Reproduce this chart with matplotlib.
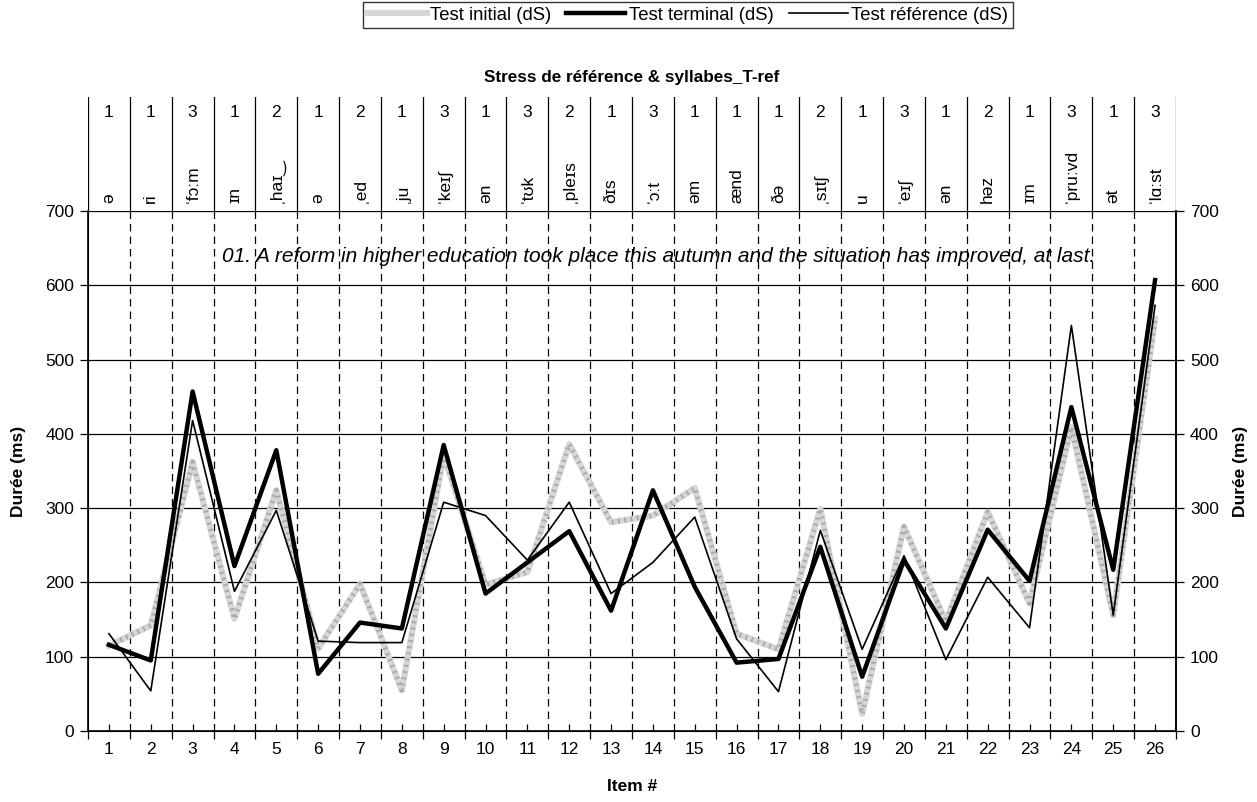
import matplotlib.pyplot as plt
import numpy as np

plt.rcParams['font.family'] = ['Liberation Sans', 'DejaVu Sans']

items = list(range(1, 27))
stress = [1, 1, 3, 1, 2, 1, 2, 1, 3, 1, 3, 2, 1, 3, 1, 1, 1, 2, 1, 3, 1, 2, 1, 3, 1, 3]
syllables = ['ə', 'ri', 'ˈfɔːm', 'ɪn', 'ˌhaɪ‿', 'ə', 'ˌed', 'ˌju', 'ˈkeɪʃ', 'ən',
             'ˈtʊk', 'ˌpleɪs', 'ðɪs', 'ˈɔːt', 'əm', 'ænd', 'ðə', 'ˌsɪtʃ', 'u', 'ˈeɪʃ',
             'ən', 'həz', 'ɪm', 'ˈpruːvd', 'ət', 'ˈlɑːst']

test_initial = [115, 142, 362, 151, 324, 111, 198, 55, 372, 197, 214, 386, 281, 290, 327,
                131, 110, 299, 23, 275, 147, 295, 172, 409, 156, 555]
test_terminal = [116, 95, 457, 222, 378, 77, 146, 138, 385, 185, 227, 269, 162, 324, 194,
                 92, 97, 248, 73, 230, 138, 271, 202, 436, 217, 607]
test_reference = [131, 54, 418, 188, 297, 121, 119, 119, 308, 290, 230, 308, 185, 227, 288,
                  124, 53, 270, 110, 236, 96, 207, 139, 546, 156, 573]

sentence = "01. A reform in higher education took place this autumn and the situation has improved, at last."

FS = 12.5
W, H = 1257, 802
fig = plt.figure(figsize=(W / 100, H / 100), dpi=100)

x0, x1 = 88 / W, 1176 / W
ax = fig.add_axes([x0, 1 - 731 / H, x1 - x0, (731 - 211) / H])
top = fig.add_axes([x0, 1 - 211 / H, x1 - x0, (211 - 97) / H])

bounds = np.arange(0.5, 27, 1.0)

# main chart
ax.set_xlim(0.5, 26.5)
ax.set_ylim(0, 700)
for y in range(100, 701, 100):
    ax.axhline(y, color='black', lw=0.9, zorder=1)
for b in bounds[1:-1]:
    ax.axvline(b, color='black', lw=0.9, dashes=(6, 4), zorder=1)

l1, = ax.plot(items, test_initial, color='#d6d6d6', lw=4.5, zorder=2)
ax.plot(items, test_initial, color='#aaaaaa', lw=3.5, ls=(0, (0.4, 0.9)), zorder=2.1)
l3, = ax.plot(items, test_reference, color='black', lw=1.2, zorder=3)
l2, = ax.plot(items, test_terminal, color='black', lw=3.2, zorder=4)

ax.set_xticks(bounds)
ax.set_xticklabels([])
ax.set_xticks(items, minor=True)
ax.set_xticklabels([str(i) for i in items], minor=True, fontsize=FS)
ax.tick_params(axis='x', which='major', direction='out', length=6, width=0.9)
ax.tick_params(axis='x', which='minor', direction='in', length=5, width=0.9, pad=8)
ax.set_yticks(range(0, 701, 100))
ax.tick_params(axis='y', direction='out', length=6, width=0.9, labelsize=FS, pad=4)
ax.spines['top'].set_visible(False)
for s in ['left', 'right', 'bottom']:
    ax.spines[s].set_linewidth(1.2)

ax2 = ax.twinx()
ax2.set_ylim(0, 700)
ax2.set_yticks(range(0, 701, 100))
ax2.tick_params(axis='y', direction='out', length=6, width=0.9, labelsize=FS, pad=4)
ax2.spines['top'].set_visible(False)
ax2.spines['right'].set_linewidth(1.2)
ax2.set_ylabel('Durée (ms)', fontsize=FS, fontweight='bold', labelpad=10)
ax.set_ylabel('Durée (ms)', fontsize=FS, fontweight='bold', labelpad=14)
ax.set_xlabel('Item #', fontsize=FS, fontweight='bold', labelpad=16)

ax.text((659 - 88) / 1088, (731 - 257) / 520, sentence, transform=ax.transAxes,
        ha='center', va='center', style='italic', fontsize=15)

# top category panel
top.set_xlim(0.5, 26.5)
top.set_ylim(0, 1)
top.axis('off')
for b in bounds:
    top.axvline(b, color='black', lw=0.9)
for i, s, syl in zip(items, stress, syllables):
    top.text(i, 0.86, str(s), ha='center', va='center', fontsize=FS)
    top.text(i, 0.07, syl, ha='center', va='bottom', rotation=90, fontsize=FS,
             family=['Liberation Sans', 'DejaVu Sans'])
top.set_title('Stress de référence & syllabes_T-ref', fontsize=12.3, fontweight='bold', pad=11)

leg = fig.legend([l1, l2, l3], ['Test initial (dS)', 'Test terminal (dS)', 'Test référence (dS)'],
                 loc='upper center', bbox_to_anchor=(688 / W, 1 - 2 / H), ncol=3,
                 fontsize=13.3, frameon=True, fancybox=False, edgecolor='black',
                 handlelength=3.2, handletextpad=0.2, columnspacing=0.8,
                 borderpad=0.25, borderaxespad=0)
leg.get_frame().set_linewidth(1.0)

fig.savefig('out.png', dpi=100)
